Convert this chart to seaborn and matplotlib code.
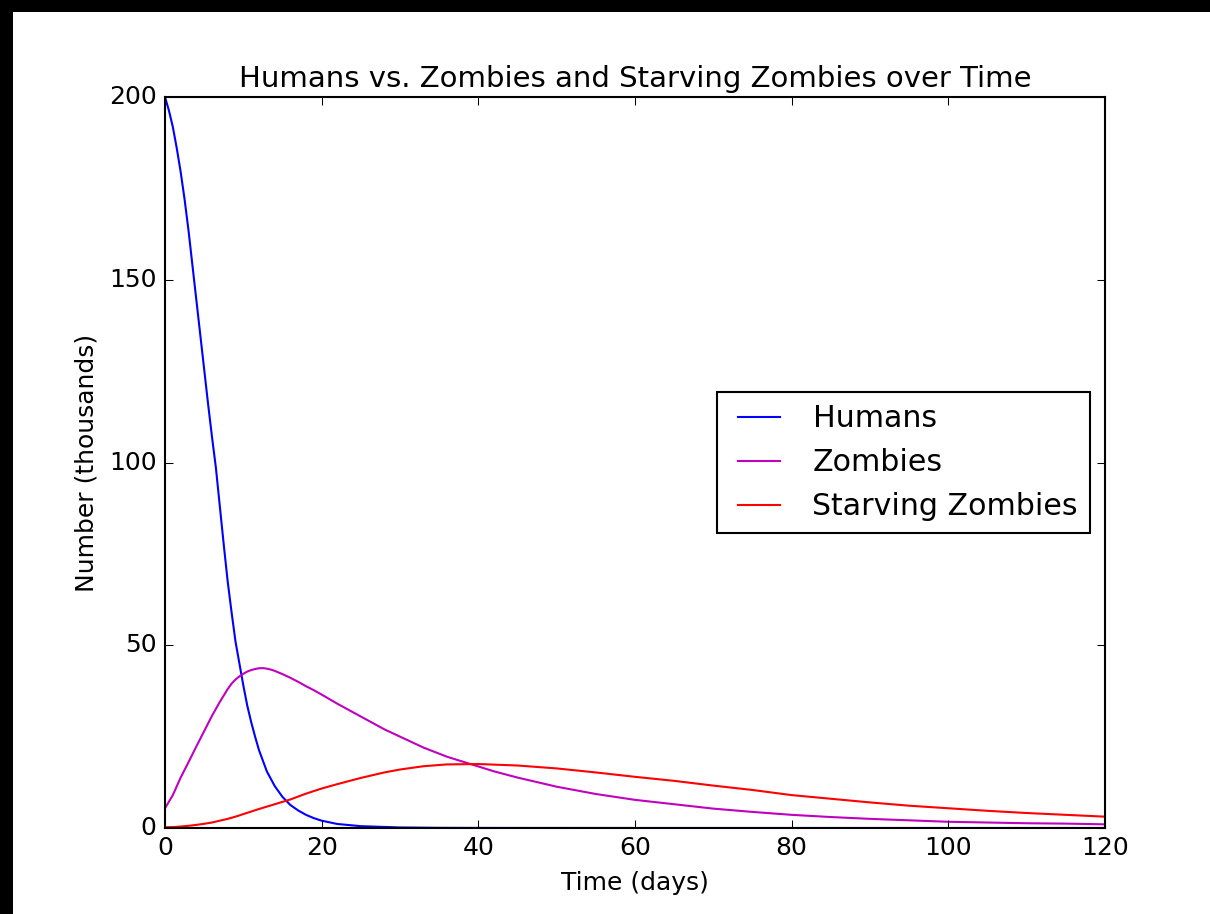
import matplotlib
matplotlib.use("Agg")
import matplotlib.pyplot as plt
from matplotlib.patches import Rectangle
import seaborn as sns
import pandas as pd

# ---- data ----
humans_t = [0, 0.5, 1, 1.5, 2, 2.5, 3, 3.5, 4, 4.5, 5, 5.5, 6, 6.5, 7, 7.5, 8, 8.5, 9, 9.5, 10, 10.5, 11, 11.5, 12, 13, 14, 15, 16, 17, 18, 19, 20, 22, 25, 30, 35, 40, 60, 80, 100, 120]
humans_v = [200, 196.3, 191.8, 186, 179.5, 172, 163.5, 154, 144.5, 135, 125.5, 116, 107, 98.5, 88, 77.5, 67.5, 59, 51, 45, 39, 33.5, 29, 25, 21.3, 15.5, 11.5, 8.5, 6.3, 4.8, 3.6, 2.7, 2.0, 1.1, 0.5, 0.15, 0.05, 0.02, 0.0, 0.0, 0.0, 0.0]

zombies_t = [0, 1, 2, 3, 4, 5, 6, 7, 8, 8.5, 9, 9.5, 10, 10.5, 11, 11.5, 12, 12.5, 13, 13.5, 14, 15, 16, 17, 18, 19, 20, 22, 25, 28, 30, 33, 36, 39, 42, 45, 50, 55, 60, 65, 70, 75, 80, 85, 90, 95, 100, 105, 110, 115, 120]
zombies_v = [5.4, 9.0, 13.8, 18.0, 22.3, 26.5, 30.7, 34.5, 38.0, 39.5, 40.6, 41.5, 42.2, 42.8, 43.2, 43.5, 43.7, 43.75, 43.6, 43.35, 43.0, 42.1, 41.1, 40.0, 38.8, 37.7, 36.5, 34.0, 30.5, 27.0, 25.0, 22.0, 19.5, 17.5, 15.5, 13.8, 11.3, 9.3, 7.7, 6.5, 5.3, 4.4, 3.6, 3.0, 2.5, 2.1, 1.7, 1.5, 1.3, 1.2, 1.0]

starving_t = [0, 1, 2, 3, 4, 5, 6, 7, 8, 9, 10, 11, 12, 14, 16, 18, 20, 22, 25, 28, 30, 33, 36, 40, 45, 50, 55, 60, 65, 70, 75, 80, 85, 90, 95, 100, 105, 110, 115, 120]
starving_v = [0.2, 0.25, 0.4, 0.6, 0.85, 1.15, 1.5, 2.0, 2.5, 3.1, 3.8, 4.5, 5.2, 6.5, 7.8, 9.4, 10.8, 12.0, 13.7, 15.2, 16.0, 16.9, 17.4, 17.5, 17.1, 16.3, 15.2, 14.0, 12.9, 11.6, 10.4, 9.0, 8.0, 7.0, 6.1, 5.4, 4.7, 4.1, 3.6, 3.1]

labels = ["Humans", "Zombies", "Starving Zombies"]
colors = {"Humans": "#0000ff", "Zombies": "#bf00bf", "Starving Zombies": "#ff0000"}

df = pd.concat([
    pd.DataFrame({"t": humans_t, "v": humans_v, "series": labels[0]}),
    pd.DataFrame({"t": zombies_t, "v": zombies_v, "series": labels[1]}),
    pd.DataFrame({"t": starving_t, "v": starving_v, "series": labels[2]}),
], ignore_index=True)

plt.style.use("classic")
plt.rcParams["font.family"] = ["DejaVu Sans"]

fig = plt.figure(figsize=(1210 / 150, 914 / 150), dpi=150)
fig.patch.set_facecolor("black")
fig.patches.append(Rectangle((13 / 1210, 0), 1 - 13 / 1210, 1 - 12 / 914,
                             transform=fig.transFigure, facecolor="white",
                             edgecolor="none", zorder=-10))

ax = fig.add_axes([165 / 1210, (914 - 828) / 914, (1105 - 165) / 1210, (828 - 97) / 914])
sns.lineplot(data=df, x="t", y="v", hue="series", hue_order=labels, palette=colors,
             estimator=None, sort=True, linewidth=1.0, ax=ax)

ax.set_xlim(0, 120)
ax.set_ylim(0, 200)
ax.set_xticks([0, 20, 40, 60, 80, 100, 120])
ax.set_yticks([0, 50, 100, 150, 200])
ax.set_title("Humans vs. Zombies and Starving Zombies over Time", fontsize=14)
ax.set_xlabel("Time (days)", fontsize=12)
ax.set_ylabel("Number (thousands)", fontsize=12)
ax.tick_params(labelsize=12)

leg = ax.legend(loc="center right", fontsize=14.4, frameon=True, fancybox=False)
leg.get_frame().set_edgecolor("black")

fig.savefig("out.png", dpi=150, facecolor=fig.get_facecolor())
